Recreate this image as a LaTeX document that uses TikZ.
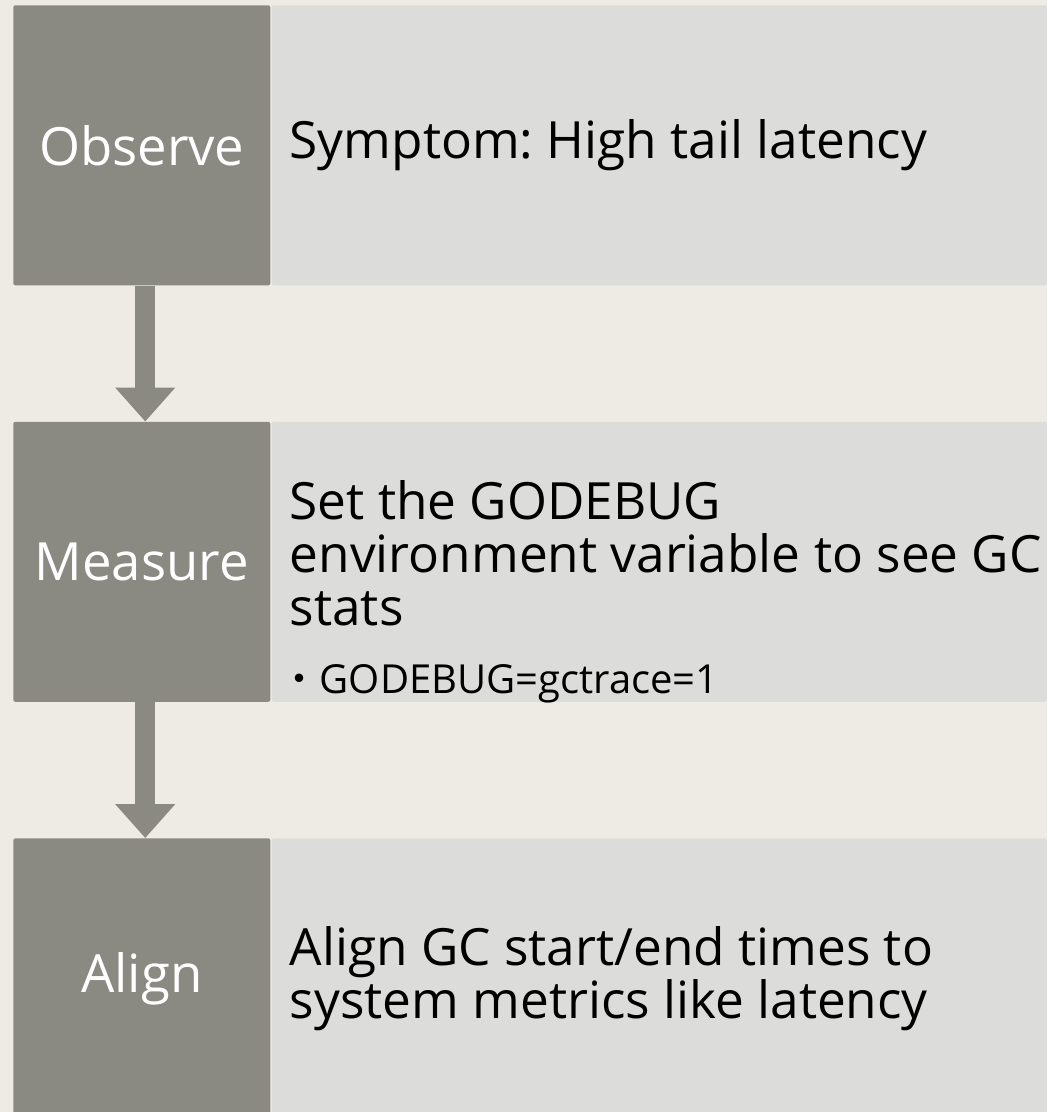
\documentclass[tikz,border=0pt]{standalone}
\usepackage{fontspec}
\setmainfont{Open Sans}
\newfontfamily\jpfont{Noto Sans CJK JP}
\usetikzlibrary{positioning, arrows.meta}
\frenchspacing
\definecolor{stagegray}{RGB}{138,138,130}
\definecolor{detailgray}{RGB}{220,220,218}
\definecolor{paper}{RGB}{238,235,228}
\newcommand{\widthstage}{192.75pt}
\newcommand{\widthdetail}{581.25pt}
\newcommand{\heightbox}{210pt}
\newcommand{\gapbox}{102pt}
\newcommand{\bigtext}{\fontsize{38.5}{39.75}\selectfont}
\newcommand{\stagetext}{\fontsize{39.5}{40}\selectfont}
\newcommand{\smalltext}{\fontsize{30}{32}\selectfont}
\tikzset{
    common/.style={rectangle, rounded corners=1.5pt, minimum height=\heightbox, inner sep=0pt},
    stage/.style={common, fill=stagegray, minimum width=\widthstage, text=white, font=\stagetext},
    detail/.style={common, fill=detailgray, minimum width=\widthdetail},
    note/.style={anchor=west, align=left, inner sep=0pt, xshift=13.5pt, font=\bigtext},
    item/.style={anchor=base west, inner sep=0pt, font=\smalltext},
    flow/.style={draw=stagegray, line width=15pt, -{Triangle[width=43.5pt, length=25.5pt]}}
}

\begin{document}
\begin{tikzpicture}
    \useasboundingbox (0,0) rectangle (785.25pt,-834pt);
    \fill[paper] (0,0) rectangle (785.25pt,-834pt);
    \clip (0,0) rectangle (785.25pt,-834pt);

    % stages on the left
    \node[stage, anchor=north west] (observe) at (9.75pt,-3.75pt) {Observe};
    \node[stage, below=\gapbox of observe] (measure) {Measure};
    \node[stage, below=\gapbox of measure] (align) {Align};

    % detail boxes on the right
    \node[detail, right=0.75pt of observe] (observe-box) {};
    \node[detail, right=0.75pt of measure] (measure-box) {};
    \node[detail, right=0.75pt of align] (align-box) {};

    \node[note] (observe-text) at (observe-box.west) {Symptom: High tail latency};
    \node[note, yshift=6.75pt] (measure-text) at (measure-box.west)
        {Set the GODEBUG\\environment variable to see GC\\stats};
    \node[item] (measure-item) at ([xshift=-7.5pt, yshift=-51pt]measure-text.south west)
        {{\jpfont ・}GODEBUG=gctrace=1};
    \node[note] (align-text) at (align-box.west)
        {Align GC start/end times to\\system metrics like latency};

    \draw[flow] ([xshift=2.6pt]observe.south) -- ([xshift=2.6pt]measure.north);
    \draw[flow] ([xshift=2.6pt]measure.south) -- ([xshift=2.6pt]align.north);
\end{tikzpicture}
\end{document}
